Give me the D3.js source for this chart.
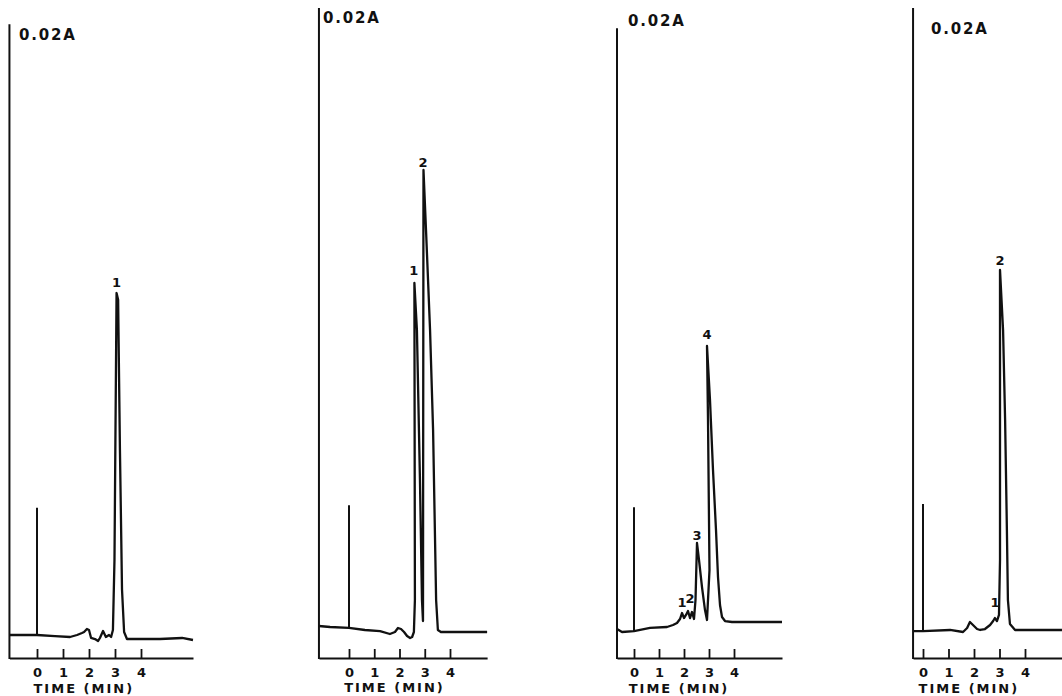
<!doctype html>
<html>
<head>
<meta charset="utf-8">
<title>HPLC chromatograms</title>
<style>
body { margin: 0; background: #fff; }
svg { display: block; }
.vline { stroke: #111; stroke-width: 2; fill: none; }
.axis path { stroke: #111; stroke-width: 2.2; }
.axis line { stroke: #111; stroke-width: 1.8; }
.axis text { font-family: "DejaVu Sans", sans-serif; font-weight: bold; font-size: 13px; fill: #111; }
.trace { fill: none; stroke: #111; stroke-width: 2.3; stroke-linejoin: round; }
.lbl { font-family: "DejaVu Sans", sans-serif; font-weight: bold; fill: #111; }
</style>
<script src="https://cdn.jsdelivr.net/npm/d3@7"></script>
</head>
<body>
<script>
// values: time in min, signal in % of the full axis height
var ticks = [0, 1, 2, 3, 4];
var scaleLabel = "0.02A";
var axisTitle = "TIME (MIN)";

var axisStart = [-1.06, -1.19, -0.68, -0.39];
var axisEnd = [6.0, 5.47, 5.92, 5.45];
var axisTop = [97.5, 100, 96.9, 100];
var injectHeight = [23.1, 23.5, 23.2, 23.7];

var trace1 = [[-1.06, 3.54], [0, 3.54], [0.69, 3.38], [1.27, 3.23], [1.54, 3.54], [1.73, 3.85], [1.81, 4.0],
    [1.92, 4.46], [2.0, 4.31], [2.08, 3.08], [2.23, 2.92], [2.35, 2.62], [2.42, 3.08], [2.54, 4.15],
    [2.65, 3.23], [2.77, 3.54], [2.85, 3.23], [2.92, 4.31], [2.98, 15.1], [3.06, 56.15], [3.12, 55.1],
    [3.19, 32.0], [3.27, 10.5], [3.35, 4.0], [3.46, 2.92], [4.73, 2.92], [5.58, 3.08], [6.0, 2.77]];

var trace2 = [[-1.19, 4.92], [-0.75, 4.77], [0, 4.62], [0.63, 4.31], [1.23, 4.15], [1.62, 3.69], [1.82, 4.0],
    [1.94, 4.62], [2.06, 4.46], [2.18, 4.0], [2.30, 3.38], [2.42, 3.08], [2.50, 3.23], [2.57, 4.0],
    [2.61, 8.92], [2.59, 57.69], [2.69, 50.46], [2.81, 27.38], [2.89, 8.92], [2.93, 5.69], [2.95, 75.08],
    [3.05, 65.85], [3.21, 50.46], [3.33, 35.08], [3.45, 8.92], [3.52, 4.31], [3.64, 4.0], [5.47, 4.0]];

var trace3 = [[-0.68, 4.46], [-0.48, 4.0], [0, 4.15], [0.64, 4.62], [1.32, 4.77], [1.56, 5.08], [1.72, 5.38],
    [1.84, 6.0], [1.92, 6.92], [2.0, 6.15], [2.08, 6.62], [2.16, 7.23], [2.24, 6.15], [2.32, 7.08],
    [2.4, 6.0], [2.46, 8.92], [2.52, 17.69], [2.6, 15.08], [2.72, 10.92], [2.84, 7.38], [2.92, 5.85],
    [3.02, 13.54], [2.96, 36.6], [2.92, 48.0], [3.04, 39.69], [3.16, 28.92], [3.28, 19.69], [3.36, 12.46],
    [3.44, 8.15], [3.52, 6.31], [3.64, 5.69], [3.92, 5.54], [5.92, 5.54]];

var trace4 = [[-0.39, 4.15], [0, 4.15], [1.06, 4.31], [1.57, 4.0], [1.73, 4.62], [1.84, 5.54], [1.96, 5.08],
    [2.12, 4.46], [2.24, 4.31], [2.43, 4.46], [2.63, 5.08], [2.75, 5.69], [2.82, 6.15], [2.9, 5.69],
    [2.98, 6.62], [3.02, 15.08], [3.02, 59.69], [3.14, 50.46], [3.22, 36.62], [3.29, 19.69], [3.33, 8.92],
    [3.41, 5.23], [3.61, 4.31], [5.45, 4.31]];

var peaks1 = [{ name: "1", t: 3.06, v: 57.8 }];
var peaks2 = [{ name: "1", t: 2.57, v: 59.7 }, { name: "2", t: 2.93, v: 76.3 }];
var peaks3 = [{ name: "1", t: 1.92, v: 8.6 }, { name: "2", t: 2.24, v: 9.2 }, { name: "3", t: 2.52, v: 18.9 }, { name: "4", t: 2.92, v: 49.85 }];
var peaks4 = [{ name: "1", t: 2.82, v: 8.6 }, { name: "2", t: 3.02, v: 61.2 }];

var traces = [trace1, trace2, trace3, trace4];
var peaks = [peaks1, peaks2, peaks3, peaks4];

// page layout
var width = 1062, height = 696;
var zeroX = [37, 349, 634, 923];
var pxPerMin = [26, 25.25, 25, 25.5];
var labelPos = [[19, 35], [323, 18], [628, 21], [931, 29]];
var titleY = [688.5, 687.5, 688.5, 688];

var svg = d3.select("body").append("svg")
    .attr("width", width)
    .attr("height", height);

var y = d3.scaleLinear().domain([0, 100]).range([658, 8]);

traces.forEach(function(data, i) {
    var x = d3.scaleLinear()
        .domain([axisStart[i], axisEnd[i]])
        .range([zeroX[i] + axisStart[i] * pxPerMin[i], zeroX[i] + axisEnd[i] * pxPerMin[i]]);

    var g = svg.append("g");

    // vertical axis
    g.append("line")
        .attr("class", "vline")
        .attr("x1", x(axisStart[i])).attr("x2", x(axisStart[i]))
        .attr("y1", y(0) + 1).attr("y2", y(axisTop[i]));

    // time axis, ticks pointing up
    g.append("g")
        .attr("class", "axis")
        .attr("transform", "translate(0," + y(0) + ")")
        .call(d3.axisBottom(x).tickValues(ticks).tickFormat(d3.format("d"))
            .tickSize(-9).tickSizeOuter(0).tickPadding(10))
        .call(function(a) { a.selectAll("text").attr("font-family", null).attr("font-size", null); });

    // injection mark
    g.append("line")
        .attr("class", "vline")
        .attr("x1", x(0)).attr("x2", x(0))
        .attr("y1", y(data[1][1])).attr("y2", y(injectHeight[i]));

    var line = d3.line()
        .x(function(d) { return x(d[0]); })
        .y(function(d) { return y(d[1]); });

    g.append("path")
        .datum(data)
        .attr("class", "trace")
        .attr("d", line);

    g.selectAll(".peak")
        .data(peaks[i])
        .enter().append("text")
        .attr("class", "lbl peak")
        .attr("x", function(d) { return x(d.t); })
        .attr("y", function(d) { return y(d.v); })
        .attr("text-anchor", "middle")
        .attr("dy", "0.36em")
        .attr("font-size", 13)
        .text(function(d) { return d.name; });

    g.append("text")
        .attr("class", "lbl")
        .attr("x", labelPos[i][0])
        .attr("y", labelPos[i][1])
        .attr("dy", "0.36em")
        .attr("font-size", 15)
        .attr("letter-spacing", 1.8)
        .text(scaleLabel);

    g.append("text")
        .attr("class", "lbl")
        .attr("x", x(1.8))
        .attr("y", titleY[i])
        .attr("dy", "0.36em")
        .attr("text-anchor", "middle")
        .attr("font-size", 13)
        .attr("letter-spacing", 2)
        .text(axisTitle);
});
</script>
</body>
</html>
